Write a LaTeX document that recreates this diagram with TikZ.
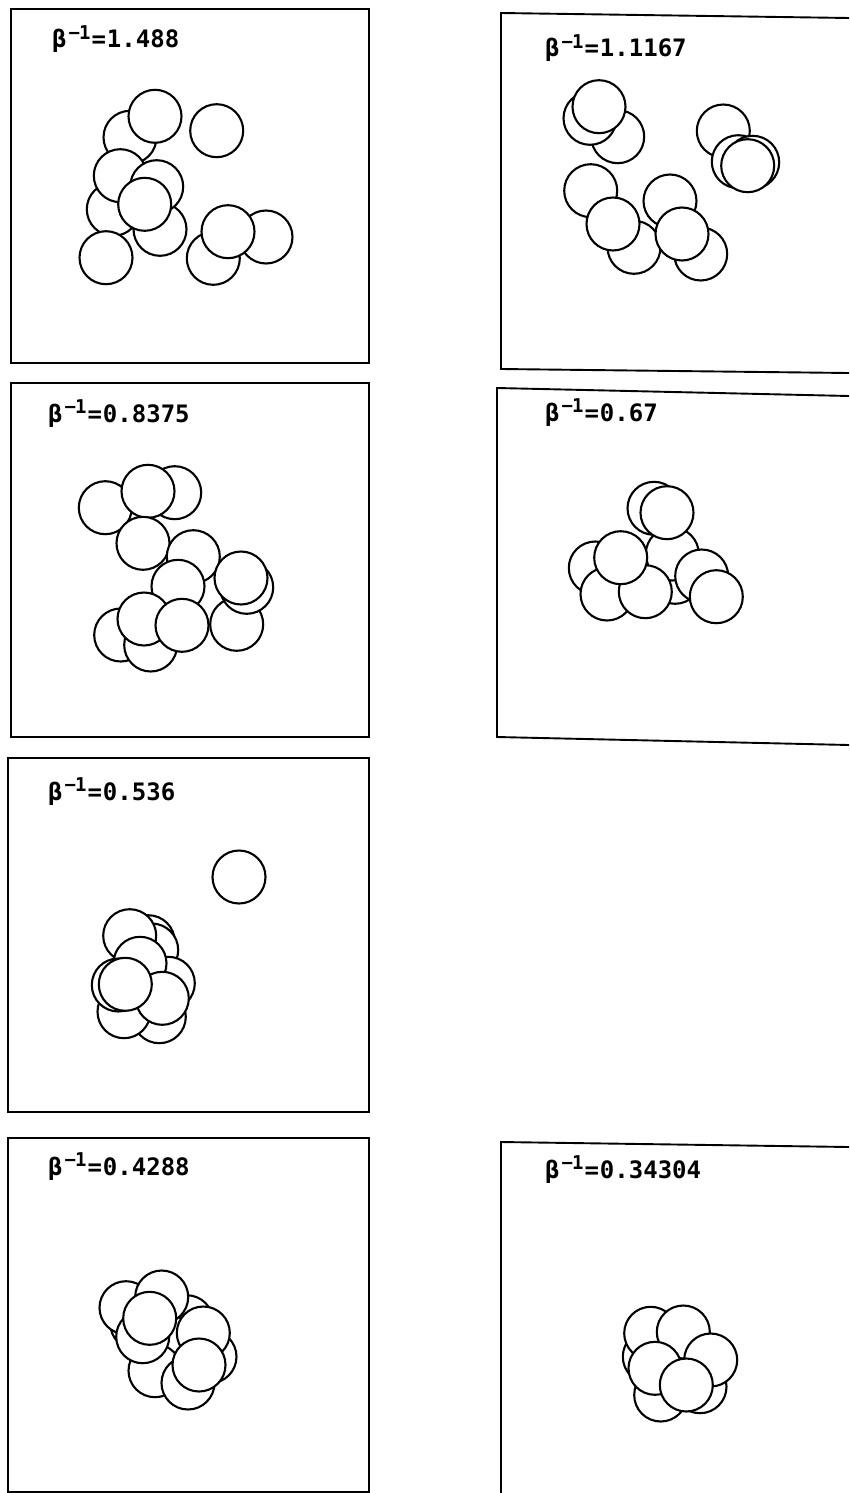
\documentclass[tikz,border=0pt]{standalone}
\usepackage{fontspec}
\newfontfamily\lab{DejaVu Sans Mono}
\newcommand\betalabel[1]{{\lab\bfseries\fontsize{24}{24}\selectfont β\kern2pt\raisebox{8.5pt}{\fontsize{19}{19}\selectfont −\kern-1pt1}\kern1pt=\kern1pt#1}}
\tikzset{
  ball/.style={circle, draw=black, fill=white, line width=2.1pt, minimum size=53pt, inner sep=0pt},
  frame/.style={draw=black, line width=1.9pt},
  lbl/.style={anchor=base west, inner sep=0pt}
}
\begin{document}
\begin{tikzpicture}[x=1pt,y=-1pt]
\useasboundingbox[fill=white] (0,0) rectangle (849,1493);
% panel frames
\draw[frame] (11,9) rectangle (369,363);
\draw[frame] (849,18) -- (501,13) -- (501,369) -- (849,373);
\draw[frame] (11,383) rectangle (369,737);
\draw[frame] (849,396) -- (497,388) -- (497,737) -- (849,745);
\draw[frame] (8,758) rectangle (369,1112);
\draw[frame] (8,1138) rectangle (369,1492);
\draw[frame] (849,1147) -- (501,1142) -- (501,1493);
% labels
\node[lbl] (t1) at (52,48) {\betalabel{1.488}};
\node[lbl] (t2) at (545,57) {\betalabel{1.1167}};
\node[lbl] (t3) at (48,422) {\betalabel{0.8375}};
\node[lbl] (t4) at (545,421) {\betalabel{0.67}};
\node[lbl] (t5) at (48,800) {\betalabel{0.536}};
\node[lbl] (t6) at (48,1175) {\betalabel{0.4288}};
\node[lbl] (t7) at (545,1178) {\betalabel{0.34304}};
% panel 1
\foreach \x/\y [count=\i] in {130/137.3, 155/116.3, 113.3/209.3, 120.3/175.7, 160/229.3, 156.7/186.7, 144.7/204.3, 106/257.7, 216.7/130.7, 213.3/258.3, 266/237, 228/231.7}
  \node[ball] (pa\i) at (\x,\y) {};
% panel 2
\foreach \x/\y [count=\i] in {617.7/136.7, 590/118.3, 599/106.7, 723.3/131, 738.3/161.7, 752.7/162.3, 747.7/165.7, 590.7/190.7, 634/247.3, 613/224, 670/201, 700.7/254, 682/234}
  \node[ball] (pb\i) at (\x,\y) {};
% panel 3
\foreach \x/\y [count=\i] in {105.3/507.7, 174.7/492.7, 148/491.3, 143/543.3, 193.3/556.7, 178/586.3, 236.7/624.3, 246.7/587.3, 241/578, 120.7/635, 150.7/645, 144/619, 182/625.3}
  \node[ball] (pc\i) at (\x,\y) {};
% panel 4
\foreach \x/\y [count=\i] in {633.3/571.7, 675/577.3, 672.3/554, 654/508.3, 667/512.7, 595.3/568, 607/594, 645.3/591.7, 620.7/557.7, 701.7/576, 716.3/596.7}
  \node[ball] (pd\i) at (\x,\y) {};
% panel 5
\node[ball] (pe0) at (239,877) {};
\foreach \x/\y [count=\i] in {148.3/941.7, 151.7/950, 129.7/935.7, 168.3/983.3, 159.3/1016.7, 124/1011.7, 140/963.3, 162.3/998.3, 118.3/985, 125.3/984.3}
  \node[ball] (pe\i) at (\x,\y) {};
% panel 6
\foreach \x/\y [count=\i] in {186.7/1321.7, 210/1356.7, 173.3/1343.3, 136.7/1323.3, 126/1307.7, 161.7/1297, 155/1370.7, 142.7/1336.7, 149.7/1318.3, 203.3/1333, 188/1383, 199/1365}
  \node[ball] (pf\i) at (\x,\y) {};
% panel 7
\foreach \x/\y [count=\i] in {649.3/1356.7, 678.3/1363.3, 650.7/1333.3, 683.3/1332, 700/1386.7, 660.7/1395, 710.7/1360, 655/1368.3, 686.3/1385}
  \node[ball] (pg\i) at (\x,\y) {};
\end{tikzpicture}
\end{document}
